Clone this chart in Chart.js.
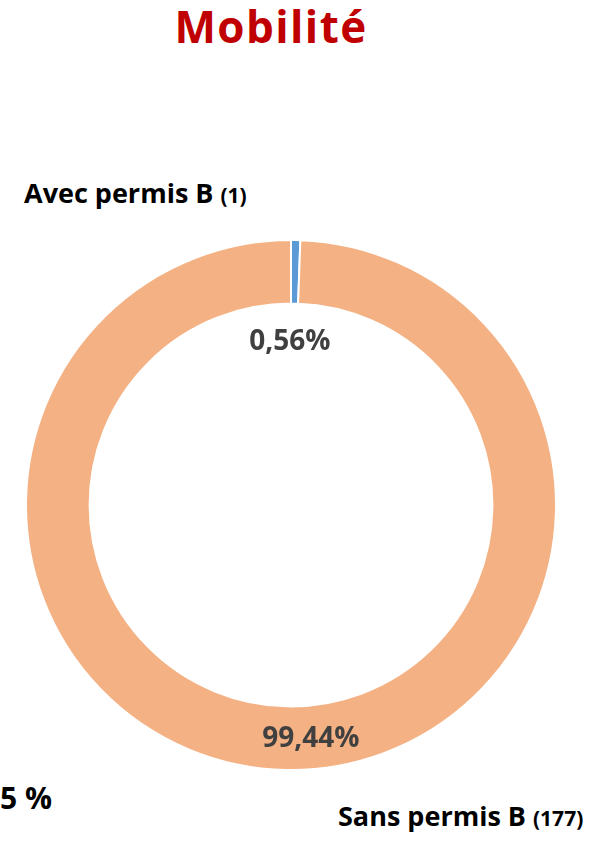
<!DOCTYPE html>
<html>
<head>
<meta charset="utf-8">
<script src="https://cdn.jsdelivr.net/npm/chart.js@4"></script>
<style>
  html, body { margin: 0; padding: 0; background: #fff; }
  body { width: 603px; height: 844px; position: relative; overflow: hidden; font-family: "Open Sans", sans-serif; }
  .title { position: absolute; left: 0; width: 542px; top: -3px; text-align: center; font-weight: bold; font-size: 44px; letter-spacing: 1.4px; color: #c00000; line-height: 1.362; }
  .lbl { position: absolute; font-weight: bold; color: #000; font-size: 27px; white-space: nowrap; line-height: 1.362; }
  .lbl small { font-size: 21px; }
  #wrap { position: absolute; left: 25px; top: 239px; width: 532px; height: 532px; }
</style>
</head>
<body>
<div class="title">Mobilité</div>
<div class="lbl" style="left:24px; top:175px;">Avec permis B <small>(1)</small></div>
<div class="lbl" style="left:338px; top:798px;">Sans permis B <small>(177)</small></div>
<div class="lbl" style="left:0px; top:778px; font-size:30px;">5 %</div>
<div id="wrap"><canvas id="mobChart"></canvas></div>
<script>
// Data
const categories = ["Avec permis B", "Sans permis B"];
const counts = [1, 177];
const percentLabels = ["0,56%", "99,44%"];
const colors = ["#5b9bd5", "#f4b183"];

// Percent labels drawn from the arc elements
const percentPlugin = {
  id: "percentLabels",
  afterDatasetsDraw(chart) {
    const ctx = chart.ctx;
    const meta = chart.getDatasetMeta(0);
    ctx.save();
    ctx.font = "bold 28px 'Open Sans', sans-serif";
    ctx.fillStyle = "#404040";
    ctx.textAlign = "center";
    ctx.textBaseline = "middle";
    meta.data.forEach((arc, i) => {
      const p = arc.getProps(["x", "y", "startAngle", "endAngle", "innerRadius", "outerRadius"], true);
      const mid = (p.startAngle + p.endAngle) / 2;
      let r, dx = 0;
      if (i === 0) {
        r = p.innerRadius - 37;
        dx = -4;
      } else {
        r = (p.innerRadius + p.outerRadius) / 2;
        dx = 24;
      }
      ctx.fillText(percentLabels[i], p.x + Math.cos(mid) * r + dx, p.y + Math.sin(mid) * r + 1);
    });
    ctx.restore();
  },
};

new Chart(document.getElementById("mobChart"), {
  type: "doughnut",
  data: {
    labels: categories,
    datasets: [
      {
        data: counts,
        backgroundColor: colors,
        borderColor: "#ffffff",
        borderWidth: 2,
        hoverOffset: 0,
      },
    ],
  },
  options: {
    responsive: true,
    maintainAspectRatio: false,
    animation: false,
    cutout: "76%",
    layout: { padding: 0 },
    plugins: {
      legend: { display: false },
      tooltip: { enabled: false },
    },
  },
  plugins: [percentPlugin],
});
</script>
</body>
</html>
